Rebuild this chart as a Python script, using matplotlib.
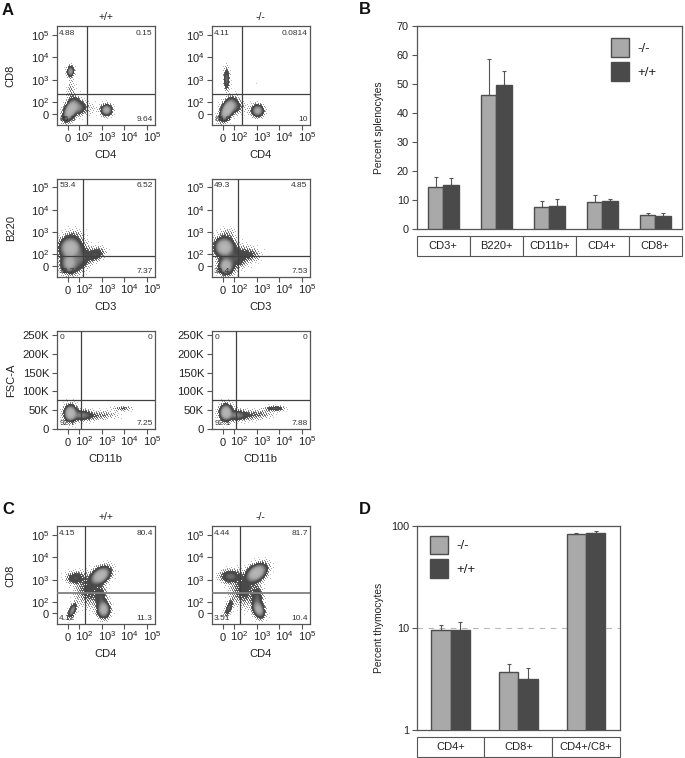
import numpy as np
import matplotlib
matplotlib.use("Agg")
import matplotlib.pyplot as plt
from matplotlib.colors import LinearSegmentedColormap, LogNorm
from matplotlib.patches import Patch
from matplotlib.transforms import ScaledTranslation

plt.rcParams['font.family'] = ['Liberation Sans', 'DejaVu Sans']
plt.rcParams['mathtext.default'] = 'regular'
plt.rcParams['mathtext.fontset'] = 'custom'
plt.rcParams['mathtext.rm'] = 'Liberation Sans'

W, H = 685, 758
DARK = '#4a4a4a'
LIGHT = '#a9a9a9'
EDGE = '#4d4d4d'
TEXT = '#222222'

# ---- bar data ------------------------------------------------------------
spleen_cats = ['CD3+', 'B220+', 'CD11b+', 'CD4+', 'CD8+']
spleen_ko = [14.6, 46.1, 7.8, 9.4, 4.8]
spleen_ko_top = [18.0, 58.5, 9.9, 12.0, 5.8]
spleen_wt = [15.3, 49.6, 8.0, 9.7, 4.7]
spleen_wt_top = [17.7, 54.5, 10.4, 10.3, 5.6]

thymus_cats = ['CD4+', 'CD8+', 'CD4+/C8+']
thymus_ko = [9.5, 3.69, 84.0]
thymus_ko_top = [10.6, 4.46, 86.5]
thymus_wt = [9.6, 3.15, 85.0]
thymus_wt_top = [11.4, 4.07, 89.0]

# ---- flow axis ticks -----------------------------------------------------
log_ticks = [1.5, 2, 3, 4, 5]
log_labels = ['0', '$10^{2}$', '$10^{3}$', '$10^{4}$', '$10^{5}$']
fsc_ticks = [0, 50, 100, 150, 200, 250]
fsc_labels = ['0', '50K', '100K', '150K', '200K', '250K']

# ---- flow populations: x, y, sx, sy, rho, peak ----------------------------
a1_pops = [(1.60, 1.67, .15, .22, .5, 1.0), (1.92, 1.78, .18, .16, 0, .30),
           (1.60, 3.40, .08, .12, 0, .40), (1.62, 2.50, .10, .35, 0, .04),
           (3.20, 1.67, .12, .12, 0, .60), (2.50, 1.75, .25, .18, 0, .015),
           (3.00, 3.00, .40, .40, 0, .002)]
a2_pops = [(1.68, 1.67, .15, .22, .5, 1.0), (1.92, 1.85, .18, .16, 0, .28),
           (1.65, 3.05, .07, .26, 0, .20), (3.03, 1.64, .13, .13, 0, .55),
           (2.50, 1.75, .25, .18, 0, .012), (3.00, 2.90, .35, .40, 0, .002)]
a3_pops = [(1.60, 2.30, .22, .22, 0, 1.0), (1.55, 1.62, .18, .22, 0, .60),
           (2.05, 1.80, .22, .28, .3, .18), (2.70, 2.00, .22, .17, .3, .14),
           (1.80, 2.90, .25, .14, 0, .03)]
a4_pops = [(1.55, 2.33, .20, .20, 0, 1.0), (1.62, 1.50, .15, .18, 0, .80),
           (2.10, 1.85, .26, .26, .2, .14), (2.70, 2.00, .25, .18, 0, .07),
           (1.70, 2.95, .22, .14, 0, .03)]
a5_pops = [(1.60, 42, .13, 10, 0, 1.0), (2.10, 37, .25, 7, 0, .25),
           (2.90, 36, .45, 7, .2, .05), (3.90, 55, .25, 3.5, 0, .07)]
a6_pops = [(1.62, 44, .13, 10, 0, 1.0), (2.10, 37, .25, 7, 0, .25),
           (2.95, 38, .45, 8, .3, .06), (3.80, 55, .22, 3.6, 0, .16)]
c1_pops = [(2.93, 3.16, .20, .18, .4, 1.0), (1.82, 3.06, .22, .15, 0, .14),
           (2.40, 2.47, .32, .38, 0, .08), (3.07, 1.65, .13, .18, 0, .70),
           (2.95, 2.17, .14, .28, 0, .12), (1.68, 1.60, .10, .17, .6, .30)]
c2_pops = [(2.97, 3.28, .21, .19, .4, 1.0), (1.82, 3.13, .24, .15, 0, .20),
           (2.40, 2.50, .32, .38, 0, .09), (3.07, 1.65, .13, .18, -.3, .60),
           (3.02, 2.15, .13, .28, 0, .15), (1.75, 1.72, .10, .19, .6, .18)]

# ---- quadrant percentages: upper left, upper right, lower left, lower right
a1_pct = ['4.88', '0.15', '85.3', '9.64']
a2_pct = ['4.11', '0.0814', '85.8', '10']
a3_pct = ['53.4', '6.52', '32.7', '7.37']
a4_pct = ['49.3', '4.85', '38.4', '7.53']
a5_pct = ['0', '0', '92.7', '7.25']
a6_pct = ['0', '0', '92.1', '7.88']
c1_pct = ['4.15', '80.4', '4.12', '11.3']
c2_pct = ['4.44', '81.7', '3.51', '10.4']

fig = plt.figure(figsize=(W / 100, H / 100), dpi=100, facecolor='white')


def axes_px(x0, y0, x1, y1):
    return fig.add_axes([x0 / W, 1 - y1 / H, (x1 - x0) / W, (y1 - y0) / H])


density_cmap = LinearSegmentedColormap.from_list('flow', [
    (0.00, '#c4c4c4'), (0.37, '#7a7a7a'), (0.52, '#4a4a4a'), (0.62, '#484848'),
    (0.75, '#7c7c7c'), (0.88, '#a8a8a8'), (1.00, '#b5b5b5')])


def flow_panel(box, pops, pct, gate, xlabel, ylabel=None, title=None, fsc=False, soft_h=False):
    ax = axes_px(*box)
    xlim = (1.0, 5.35)
    ylim = (0, 262) if fsc else (1.0, 5.38)
    ax.set_xlim(xlim)
    ax.set_ylim(ylim)
    # density surface built from the populations, on a one-pixel grid
    nx, ny = int(box[2] - box[0]), int(box[3] - box[1])
    xe = np.linspace(*xlim, nx + 1)
    ye = np.linspace(*ylim, ny + 1)
    xc, yc = np.meshgrid((xe[:-1] + xe[1:]) / 2, (ye[:-1] + ye[1:]) / 2)
    d = np.zeros_like(xc)
    for cx, cy, sx, sy, rho, peak in pops:
        u, v = (xc - cx) / sx, (yc - cy) / sy
        q = (u * u - 2 * rho * u * v + v * v) / (2 * (1 - rho * rho))
        # core plus a thin halo of scattered events around it
        d += peak * (np.exp(-q) + 0.05 * np.exp(-q / 2.6))
    # sparse outskirts are stippled with a fixed low-discrepancy threshold pattern
    ii, jj = np.indices(d.shape)
    thresh = (ii * 0.7548777 + jj * 0.5698403) % 1.0
    keep = (d >= 0.08) | (d / 0.08 > thresh)
    d = np.ma.masked_where(~keep | (d < 0.002), d)
    ax.pcolormesh(xe, ye, d, cmap=density_cmap, norm=LogNorm(0.005, 1), shading='flat',
                  rasterized=True, zorder=1)
    # gates
    ax.axvline(gate[0], color='#404040', lw=0.9, zorder=3)
    ax.axhline(gate[1], color='#808080' if soft_h else '#404040', lw=1.3 if soft_h else 0.9, zorder=3)
    # axes
    for s in ax.spines.values():
        s.set_color('#555555')
        s.set_linewidth(0.9)
    ax.set_xticks(log_ticks)
    ax.set_xticklabels(log_labels, fontsize=8, color=TEXT)
    ax.set_yticks(fsc_ticks if fsc else log_ticks)
    ax.set_yticklabels(fsc_labels if fsc else log_labels, fontsize=8.2 if fsc else 8, color=TEXT)
    ax.tick_params(axis='y', length=3.6, width=0.8, color='#555555', pad=1.8)
    ax.tick_params(axis='x', length=3.6, width=0.8, color='#555555', pad=8.4)
    shift = ScaledTranslation(5.0 / 100, 0, fig.dpi_scale_trans)
    for i, lab in enumerate(ax.get_xticklabels()):
        lab.set_va('baseline')
        if i:
            lab.set_transform(lab.get_transform() + shift)
    if not fsc:
        down = ScaledTranslation(0, -1.2 / 100, fig.dpi_scale_trans)
        zero = ax.get_yticklabels()[0]
        zero.set_transform(zero.get_transform() + down)
    # labels
    ax.set_xlabel(xlabel, fontsize=8, color=TEXT, va='center')
    ax.xaxis.set_label_coords(0.5, -0.305)
    if ylabel:
        ax.set_ylabel(ylabel, fontsize=8, color=TEXT, va='center')
        ax.yaxis.set_label_coords((10.7 - box[0]) / (box[2] - box[0]), 0.5)
    if title:
        ax.text(0.5, 1.097, title, transform=ax.transAxes, ha='center', va='center',
                fontsize=7.5, color=TEXT)
    # quadrant percentages
    kw = dict(transform=ax.transAxes, fontsize=6, color='#333333', va='center', zorder=4)
    ax.text(0.025, 0.93, pct[0], ha='left', **kw)
    ax.text(0.975, 0.93, pct[1], ha='right', **kw)
    ax.text(0.025, 0.06, pct[2], ha='left', **kw)
    ax.text(0.975, 0.06, pct[3], ha='right', **kw)
    return ax


LX = (56.7, 155)
RX = (211.7, 310)
flow_panel((LX[0], 26.3, LX[1], 125), a1_pops, a1_pct, (2.32, 2.36), 'CD4', 'CD8', '+/+')
flow_panel((RX[0], 26.3, RX[1], 125), a2_pops, a2_pct, (2.32, 2.36), 'CD4', None, '-/-')
flow_panel((LX[0], 178.7, LX[1], 276.9), a3_pops, a3_pct, (2.15, 1.95), 'CD3', 'B220')
flow_panel((RX[0], 178.7, RX[1], 276.9), a4_pops, a4_pct, (2.15, 1.95), 'CD3')
flow_panel((LX[0], 330.7, LX[1], 429), a5_pops, a5_pct, (2.09, 77), 'CD11b', 'FSC-A', fsc=True)
flow_panel((RX[0], 330.7, RX[1], 429), a6_pops, a6_pct, (2.09, 77), 'CD11b', fsc=True)
flow_panel((LX[0], 526.3, LX[1], 624.4), c1_pops, c1_pct, (2.235, 2.42), 'CD4', 'CD8', '+/+', soft_h=True)
flow_panel((RX[0], 526.3, RX[1], 624.4), c2_pops, c2_pct, (2.235, 2.42), 'CD4', None, '-/-', soft_h=True)


def bar_panel(box, cats, ko, ko_top, wt, wt_top, ylabel, width, table_h=20.0):
    ax = axes_px(*box)
    x = np.arange(len(cats)) + 0.5
    for xs, vals, tops, col in ((x - width / 2, ko, ko_top, LIGHT), (x + width / 2, wt, wt_top, DARK)):
        ax.bar(xs, vals, width, color=col, edgecolor=EDGE, linewidth=1.0, zorder=3)
        err = np.array(tops) - np.array(vals)
        ax.errorbar(xs, vals, yerr=[np.zeros(len(err)), err], fmt='none', ecolor='#555555',
                    elinewidth=0.8, capsize=1.5, capthick=0.8, zorder=2)
    ax.set_xlim(0, len(cats))
    ax.set_xticks([])
    for s in ax.spines.values():
        s.set_color('#555555')
        s.set_linewidth(0.9)
    ax.tick_params(axis='y', length=3.6, width=0.8, color='#555555', pad=2, labelsize=7.8, labelcolor=TEXT)
    h = box[3] - box[1]
    tab = ax.table(cellText=[cats], cellLoc='center',
                   bbox=[0, -(6.8 + table_h) / h, 1, table_h / h])
    tab.auto_set_font_size(False)
    tab.set_fontsize(8)
    for cell in tab.get_celld().values():
        cell.set_edgecolor('#555555')
        cell.set_linewidth(0.8)
        cell.get_text().set_color(TEXT)
    ax.set_ylabel(ylabel, fontsize=7.4, color=TEXT, va='center')
    ax.yaxis.set_label_coords((379.3 - box[0]) / (box[2] - box[0]), 0.5)
    return ax


def bar_legend(ax, anchor):
    handles = [Patch(facecolor=LIGHT, edgecolor=EDGE, lw=1.0), Patch(facecolor=DARK, edgecolor=EDGE, lw=1.0)]
    leg = ax.legend(handles, ['-/-', '+/+'], loc='upper left', bbox_to_anchor=anchor, frameon=False,
                    fontsize=9.5, handlelength=1.37, handleheight=1.8, labelspacing=0.4,
                    handletextpad=0.65, borderpad=0, borderaxespad=0)
    for t in leg.get_texts():
        t.set_color(TEXT)


ax_b = bar_panel((416.7, 26, 681.7, 229.4), spleen_cats, spleen_ko, spleen_ko_top,
                 spleen_wt, spleen_wt_top, 'Percent splenocytes', 0.29)
ax_b.set_ylim(0, 70)
ax_b.set_yticks(range(0, 71, 10))
bar_legend(ax_b, ((610.5 - 416.7) / 265, 1 - (38.5 - 26) / 203.4))

ax_d = bar_panel((416.7, 526.3, 620, 729.7), thymus_cats, thymus_ko, thymus_ko_top,
                 thymus_wt, thymus_wt_top, 'Percent thymocytes', 0.284)
ax_d.set_yscale('log')
ax_d.set_ylim(1, 100)
ax_d.set_yticks([1, 10, 100])
ax_d.set_yticklabels(['1', '10', '100'])
ax_d.minorticks_off()
ax_d.axhline(10, color='#b8b8b8', lw=0.8, dashes=(5, 5), zorder=1)
bar_legend(ax_d, ((430 - 416.7) / 203.3, 1 - (535.5 - 526.3) / 203.4))

# panel letters
for letter, px, py in (('A', 2, 15), ('B', 358.5, 14), ('C', 2, 514), ('D', 358.5, 514)):
    fig.text(px / W, 1 - py / H, letter, fontsize=12, fontweight='bold', color='#111111',
             ha='left', va='baseline')

fig.savefig('out.png', dpi=100, facecolor='white')
